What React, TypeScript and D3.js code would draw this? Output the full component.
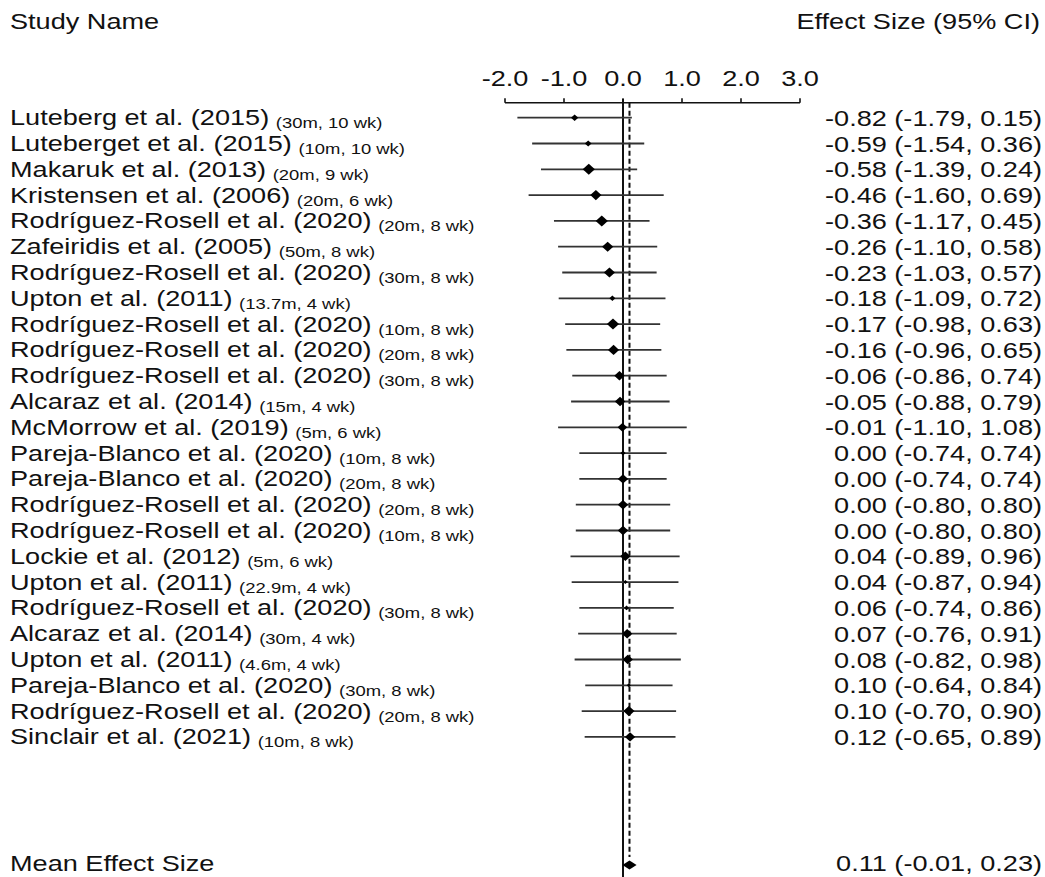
import React from 'react';
import * as d3 from 'd3';

const studies = [
  'Luteberg et al. (2015)',
  'Luteberget et al. (2015)',
  'Makaruk et al. (2013)',
  'Kristensen et al. (2006)',
  'Rodríguez-Rosell et al. (2020)',
  'Zafeiridis et al. (2005)',
  'Rodríguez-Rosell et al. (2020)',
  'Upton et al. (2011)',
  'Rodríguez-Rosell et al. (2020)',
  'Rodríguez-Rosell et al. (2020)',
  'Rodríguez-Rosell et al. (2020)',
  'Alcaraz et al. (2014)',
  'McMorrow et al. (2019)',
  'Pareja-Blanco et al. (2020)',
  'Pareja-Blanco et al. (2020)',
  'Rodríguez-Rosell et al. (2020)',
  'Rodríguez-Rosell et al. (2020)',
  'Lockie et al. (2012)',
  'Upton et al. (2011)',
  'Rodríguez-Rosell et al. (2020)',
  'Alcaraz et al. (2014)',
  'Upton et al. (2011)',
  'Pareja-Blanco et al. (2020)',
  'Rodríguez-Rosell et al. (2020)',
  'Sinclair et al. (2021)',
];

const details = [
  '(30m, 10 wk)', '(10m, 10 wk)', '(20m, 9 wk)', '(20m, 6 wk)', '(20m, 8 wk)',
  '(50m, 8 wk)', '(30m, 8 wk)', '(13.7m, 4 wk)', '(10m, 8 wk)', '(20m, 8 wk)',
  '(30m, 8 wk)', '(15m, 4 wk)', '(5m, 6 wk)', '(10m, 8 wk)', '(20m, 8 wk)',
  '(20m, 8 wk)', '(10m, 8 wk)', '(5m, 6 wk)', '(22.9m, 4 wk)', '(30m, 8 wk)',
  '(30m, 4 wk)', '(4.6m, 4 wk)', '(30m, 8 wk)', '(20m, 8 wk)', '(10m, 8 wk)',
];

const effects = [
  -0.82, -0.59, -0.58, -0.46, -0.36, -0.26, -0.23, -0.18, -0.17, -0.16,
  -0.06, -0.05, -0.01, 0.0, 0.0, 0.0, 0.0, 0.04, 0.04, 0.06,
  0.07, 0.08, 0.1, 0.1, 0.12,
];

const lowers = [
  -1.79, -1.54, -1.39, -1.6, -1.17, -1.1, -1.03, -1.09, -0.98, -0.96,
  -0.86, -0.88, -1.1, -0.74, -0.74, -0.8, -0.8, -0.89, -0.87, -0.74,
  -0.76, -0.82, -0.64, -0.7, -0.65,
];

const uppers = [
  0.15, 0.36, 0.24, 0.69, 0.45, 0.58, 0.57, 0.72, 0.63, 0.65,
  0.74, 0.79, 1.08, 0.74, 0.74, 0.8, 0.8, 0.96, 0.94, 0.86,
  0.91, 0.98, 0.84, 0.9, 0.89,
];

// relative study weights (marker size)
const weights = [
  2.8, 2.6, 4.7, 4.3, 4.7, 4.3, 4.3, 2.3, 4.7, 4.3,
  4.0, 4.0, 3.7, 2.0, 4.0, 4.0, 4.0, 4.0, 1.7, 2.0,
  4.0, 4.0, 1.7, 4.3, 4.0,
];

const axisTicks = [-2, -1, 0, 1, 2, 3];

const meanLabel = 'Mean Effect Size';
const meanEffect = 0.11;
const meanLower = -0.01;
const meanUpper = 0.23;

const locale = d3.formatLocale({
  decimal: '.',
  thousands: ',',
  grouping: [3],
  currency: ['$', ''],
  minus: '-',
});
const f2 = locale.format('.2f');
const f1 = locale.format('.1f');

const FONT = "'Liberation Sans', Arial, Helvetica, sans-serif";
const FS = 22.5;
const SX = 1.205;

function diamond(cx: number, cy: number, w: number, h: number) {
  return `M${cx - w},${cy}L${cx},${cy - h}L${cx + w},${cy}L${cx},${cy + h}Z`;
}

export default function App() {
  const W = 1045;
  const H = 877;
  const x = d3.scaleLinear().domain([-2, 3]).range([505, 800]);
  const y = d3
    .scalePoint<number>()
    .domain(d3.range(studies.length))
    .range([117.7, 736.9]);
  const size = d3.scaleLinear().domain([0, 5]).range([0, 6.5]);
  const meanY = 865;
  const axisY = 102.7;

  const ciText = (e: number, l: number, u: number) => `${f2(e)} (${f2(l)}, ${f2(u)})`;

  return (
    <svg
      width={W}
      height={H}
      style={{ position: 'absolute', left: 0, top: 0, background: '#fff' }}
      fontFamily={FONT}
    >
      <rect x={0} y={0} width={W} height={H} fill="#fff" />
      {/* headers */}
      <text transform={`translate(10,28.5) scale(${SX},1)`} fontSize={FS} fill="#111">
        Study Name
      </text>
      <text
        transform={`translate(1040,28.5) scale(${SX},1)`}
        fontSize={FS}
        fill="#111"
        textAnchor="end"
      >
        Effect Size (95% CI)
      </text>

      {/* axis */}
      <line x1={x(-2)} x2={x(3)} y1={axisY} y2={axisY} stroke="#111" strokeWidth={1.6} />
      {axisTicks.map((t) => (
        <g key={t}>
          <line x1={x(t)} x2={x(t)} y1={axisY - 4.5} y2={axisY} stroke="#111" strokeWidth={1.6} />
          <text
            transform={`translate(${x(t)},86) scale(${SX},1)`}
            textAnchor="middle"
            fontSize={FS}
            fill="#111"
          >
            {f1(t)}
          </text>
        </g>
      ))}

      {/* reference lines */}
      <line x1={x(0)} x2={x(0)} y1={99} y2={877} stroke="#111" strokeWidth={2} />
      <line
        x1={x(meanEffect)}
        x2={x(meanEffect)}
        y1={axisY}
        y2={857}
        stroke="#111"
        strokeWidth={2}
        strokeDasharray="5,3"
      />

      {/* study rows */}
      {studies.map((s, i) => {
        const cy = y(i) as number;
        const w = size(weights[i]);
        return (
          <g key={i}>
            <line
              x1={x(lowers[i])}
              x2={x(uppers[i])}
              y1={cy}
              y2={cy}
              stroke="#333"
              strokeWidth={1.8}
            />
            <path d={diamond(x(effects[i]), cy, w, w * 0.9)} fill="#000" />
            <text transform={`translate(10,${cy + 7.5}) scale(${SX},1)`} fontSize={FS} fill="#111">
              {s}
              <tspan fontSize={15.3} dx={5.5} dy={3}>
                {details[i]}
              </tspan>
            </text>
            <text
              transform={`translate(1042,${cy + 8}) scale(${SX},1)`}
              fontSize={FS}
              fill="#111"
              textAnchor="end"
            >
              {ciText(effects[i], lowers[i], uppers[i])}
            </text>
          </g>
        );
      })}

      {/* mean row */}
      <path
        d={`M${x(meanLower)},${meanY}L${x(meanEffect)},${meanY - 4.5}L${x(meanUpper)},${meanY}L${x(meanEffect)},${meanY + 4.5}Z`}
        fill="#000"
      />
      <text transform={`translate(10,${meanY + 6}) scale(${SX},1)`} fontSize={FS} fill="#111">
        {meanLabel}
      </text>
      <text
        transform={`translate(1042,${meanY + 6}) scale(${SX},1)`}
        fontSize={FS}
        fill="#111"
        textAnchor="end"
      >
        {ciText(meanEffect, meanLower, meanUpper)}
      </text>
    </svg>
  );
}
